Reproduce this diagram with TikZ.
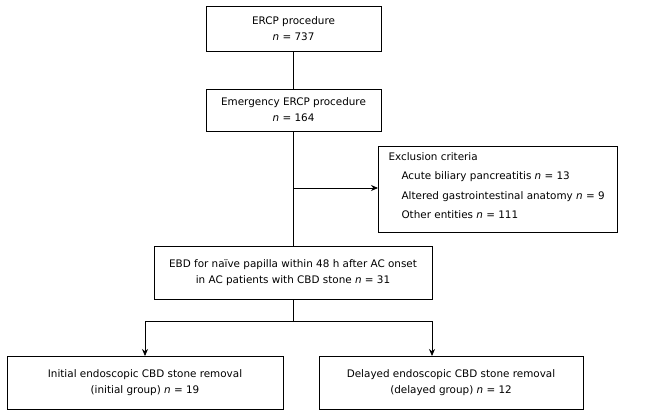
\documentclass[tikz,border=0pt]{standalone}
\usepackage{fontspec}
\setmainfont{DejaVu Sans}
\usetikzlibrary{arrows.meta}
\begin{document}
\begin{tikzpicture}[x=1pt,y=-1pt,
  box/.style={draw,line width=0.8pt},
  txt/.style={font=\fontsize{10.4}{16}\selectfont,align=center},
  ln/.style={line width=0.8pt},
  arr/.style={ln,-{Stealth[length=7pt,width=6pt]}}]
\useasboundingbox (0,0) rectangle (658,418);
\draw[box] (206,6) rectangle (381,51);
\node[txt] (b1) at (293.5,28.5) {ERCP procedure\\\textit{n} = 737};
\draw[box] (206,89) rectangle (381,131);
\node[txt] (b2) at (293.5,110) {Emergency ERCP procedure\\\textit{n} = 164};
\draw[box] (378,146) rectangle (617,232);
\node[txt,align=left,anchor=north west,font=\fontsize{10.4}{19.5}\selectfont] (ex) at (385,149)
 {Exclusion criteria\\
  \hspace*{13pt}Acute biliary pancreatitis \textit{n} = 13\\
  \hspace*{13pt}Altered gastrointestinal anatomy \textit{n} = 9\\
  \hspace*{13pt}Other entities \textit{n} = 111};
\draw[box] (154,246) rectangle (432,299);
\node[txt] (b3) at (293,272.5) {EBD for naïve papilla within 48 h after AC onset\\in AC patients with CBD stone \textit{n} = 31};
\draw[box] (7,356) rectangle (283,409);
\node[txt] (b4) at (145,382.5) {Initial endoscopic CBD stone removal\\(initial group) \textit{n} = 19};
\draw[box] (319,356) rectangle (583,409);
\node[txt] (b5) at (451,382.5) {Delayed endoscopic CBD stone removal\\(delayed group) \textit{n} = 12};
\coordinate (j) at (293,188);
\coordinate (s) at (293,321);
\draw[ln] (293,51) -- (293,89);
\draw[ln] (293,131) -- (293,246);
\draw[arr] (j) -- (378,188);
\draw[ln] (293,299) -- (s);
\draw[ln] (145,321) -- (432,321);
\draw[arr] (145,321) -- (145,356);
\draw[arr] (432,321) -- (432,356);
\end{tikzpicture}
\end{document}
